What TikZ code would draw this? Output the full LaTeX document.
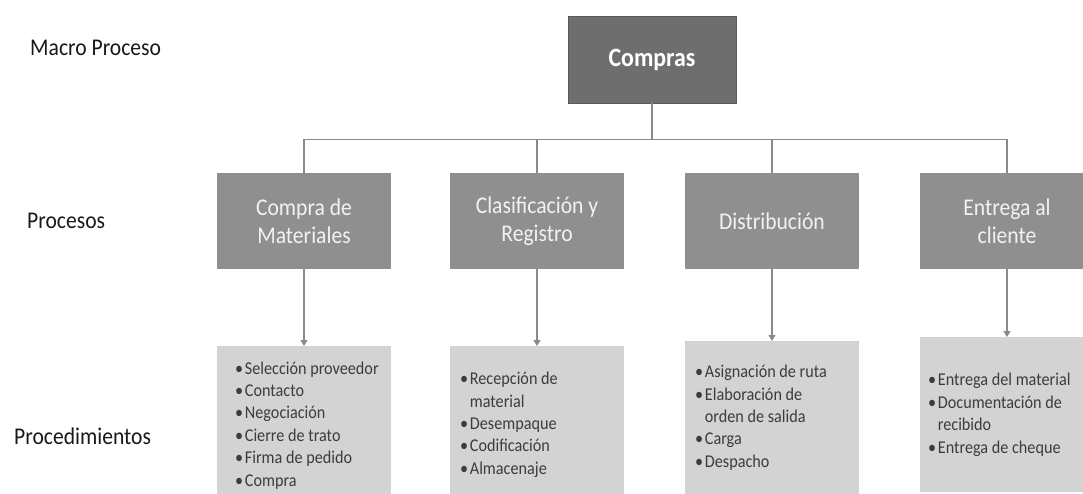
\documentclass[tikz,border=0pt]{standalone}
\usepackage{fontspec}
\setmainfont{Carlito}[FakeStretch=0.9]
\usetikzlibrary{arrows.meta}
\definecolor{macrofill}{HTML}{6E6E6E}
\definecolor{procfill}{HTML}{8F8F8F}
\definecolor{stepfill}{HTML}{D3D3D3}
\definecolor{linegray}{HTML}{8A8A8A}
\definecolor{steptext}{HTML}{3C3C3C}
\newcommand{\bul}{\makebox[0.55em][l]{•}}
\newcommand{\hang}{\hspace*{0.55em}}
\newcommand{\steplist}[2]{\parbox{174pt}{\raggedright\leftskip=#1\relax #2}}
\begin{document}
\begin{tikzpicture}[x=1pt,y=-1pt,
  macrobox/.style={draw=macrofill!80!black, line width=0.6pt, fill=macrofill, minimum width=168pt, minimum height=87pt, inner sep=0pt, text=white, font=\fontsize{26.5}{30}\selectfont\bfseries},
  procbox/.style={fill=procfill, minimum width=174pt, minimum height=96pt, inner sep=0pt, text=white!95!black, align=center, font=\fontsize{24}{28}\selectfont},
  stepbox/.style={fill=stepfill, minimum width=174pt, anchor=north, text=steptext, font=\fontsize{18}{22.4}\selectfont, inner sep=0pt},
  rowlabel/.style={anchor=base west, inner sep=0pt, text=black!90, font=\fontsize{24}{28}\selectfont},
  link/.style={draw=linegray, line width=1.3pt},
  arr/.style={link, -{Triangle[width=7pt,length=6pt]}}
]
\useasboundingbox (0,0) rectangle (1083,493);
\clip (0,0) rectangle (1083,493);

\node[rowlabel] (lmacro) at (30,55) {Macro Proceso};
\node[rowlabel] (lproc) at (27,228) {Procesos};
\node[rowlabel] (lpro) at (14,444) {Procedimientos};

\node[macrobox] (compras) at (652,59.5) {Compras};

\node[procbox] (p1) at (304,221) {Compra de\\Materiales};
\node[procbox] (p2) at (537,221) {Clasificación y\\Registro};
\node[procbox] (p3) at (772,221) {Distribución};
\node[procbox] (p4) at (1007,221) {Entrega al\\cliente};

\foreach \p in {p1,p2,p3,p4}{
  \draw[link] (compras.south) -- ++(0,36) -| (\p.north);
}

\node[stepbox, minimum height=158pt] (s1) at (304,346)
 {\steplist{18pt}{\bul Selección proveedor\\\bul Contacto\\\bul Negociación\\\bul Cierre de trato\\\bul Firma de pedido\\\bul Compra}};
\node[stepbox, minimum height=157pt] (s2) at (537,346)
 {\steplist{10pt}{\bul Recepción de\\\hang material\\\bul Desempaque\\\bul Codificación\\\bul Almacenaje}};
\node[stepbox, minimum height=153pt] (s3) at (772,341)
 {\steplist{10pt}{\bul Asignación de ruta\\\bul Elaboración de\\\hang orden de salida\\\bul Carga\\\bul Despacho}};
\node[stepbox, minimum height=155pt] (s4) at (1007,337)
 {\steplist{8pt}{\bul Entrega del material\\\bul Documentación de\\\hang recibido\\\bul Entrega de cheque}};

\draw[arr] (p1.south) -- (s1.north);
\draw[arr] (p2.south) -- (s2.north);
\draw[arr] (p3.south) -- (s3.north);
\draw[arr] (p4.south) -- (s4.north);
\end{tikzpicture}
\end{document}
